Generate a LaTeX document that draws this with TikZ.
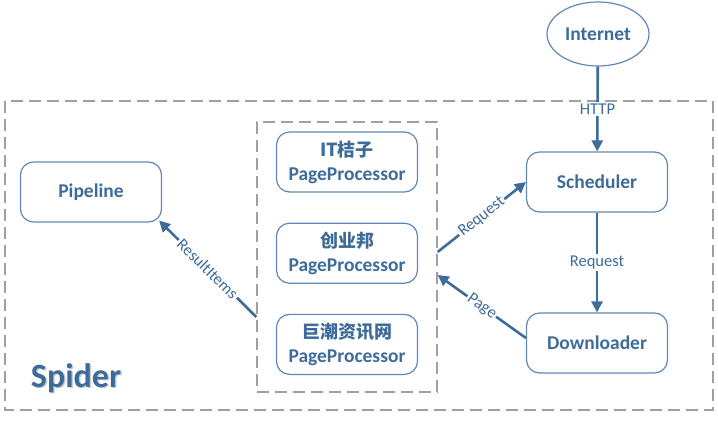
\documentclass[tikz,border=0pt]{standalone}
\usepackage{fontspec}
\setmainfont{Carlito}
\newfontfamily\cjkfont{Noto Sans CJK SC}
\usetikzlibrary{arrows.meta}
\usetikzlibrary{positioning}
\usetikzlibrary{shapes.geometric}
\definecolor{spiderblue}{RGB}{62,108,154}
\definecolor{boxline}{RGB}{96,136,181}
\definecolor{dashgray}{RGB}{160,160,160}
\tikzset{
  % component boxes
  comp/.style = {
    draw = boxline,
    line width = 1.2pt,
    rounded corners = 13pt,
    fill = white,
    minimum width = 141pt,
    minimum height = 60pt,
    inner sep = 2pt,
    align = center,
    text = spiderblue,
    font = \fontsize{19.5}{24}\selectfont\bfseries
  },
  % dashed frames
  frame/.style = {
    draw = dashgray,
    line width = 1.3pt,
    dash pattern = on 12pt off 6pt
  },
  % connectors
  flow/.style = {
    draw = spiderblue,
    line width = 2.6pt,
    -{Triangle[length=11pt,width=11pt]}
  },
  lbl/.style = {
    fill = white,
    text = spiderblue,
    inner sep = 1.5pt,
    font = \fontsize{16.5}{18}\selectfont
  }
}

\begin{document}
\begin{tikzpicture}[x=1pt, y=-1pt]
    \useasboundingbox (0,0) rectangle (718,422);

    % spider frame
    \draw[frame] (5,101) rectangle (713,410);
    \node[frame, minimum width=180pt, minimum height=270pt] (procs) at (347,257) {};

    \node[draw=boxline, line width=1.2pt, ellipse, fill=white, minimum width=102pt,
      minimum height=64pt, inner sep=1pt, text=spiderblue,
      font=\fontsize{19.5}{22}\selectfont\bfseries] (internet) at (598,34) {Internet};
    \node[comp] (scheduler) at (597,182) {Scheduler};
    \node[comp] (downloader) at (597,343) {Downloader};
    \node[comp] (pipeline) at (91,192) {Pipeline};

    \node[comp] (itjuzi) at (347,162) {{\cjkfont\bfseries\fontsize{18}{24}\selectfont IT桔子}\\PageProcessor};
    \node[comp] (cyzone) [below=30pt of itjuzi] {{\cjkfont\bfseries\fontsize{18}{24}\selectfont 创业邦}\\PageProcessor};
    \node[comp] (cninfo) [below=30pt of cyzone] {{\cjkfont\bfseries\fontsize{18}{24}\selectfont 巨潮资讯网}\\PageProcessor};

    % title with soft shadow
    \node[text=black!20, font=\fontsize{34}{38}\selectfont\bfseries] at (77.5,379.5) {Spider};
    \node[text=spiderblue, font=\fontsize{34}{38}\selectfont\bfseries] (spider) at (76,378) {Spider};

    \coordinate (req-out) at ([yshift=5pt]procs.east);
    \coordinate (page-in) at ([yshift=-18pt]procs.east);
    \coordinate (items-out) at ([yshift=-60pt]procs.west);
    \coordinate (pipe-in) at ([xshift=-3pt,yshift=2pt]pipeline.south east);

    \draw[flow] (internet) -- node[lbl] {HTTP} (scheduler);
    \draw[flow] (scheduler) -- node[lbl] {Request} (downloader);
    \draw[flow] (req-out) -- node[lbl, sloped] {Request} (scheduler.west);
    \draw[flow] ([yshift=5pt]downloader.west) -- node[lbl, sloped] {Page} (page-in);
    \draw[flow] (items-out) -- node[lbl, sloped] {ResultItems} (pipe-in);
\end{tikzpicture}
\end{document}
